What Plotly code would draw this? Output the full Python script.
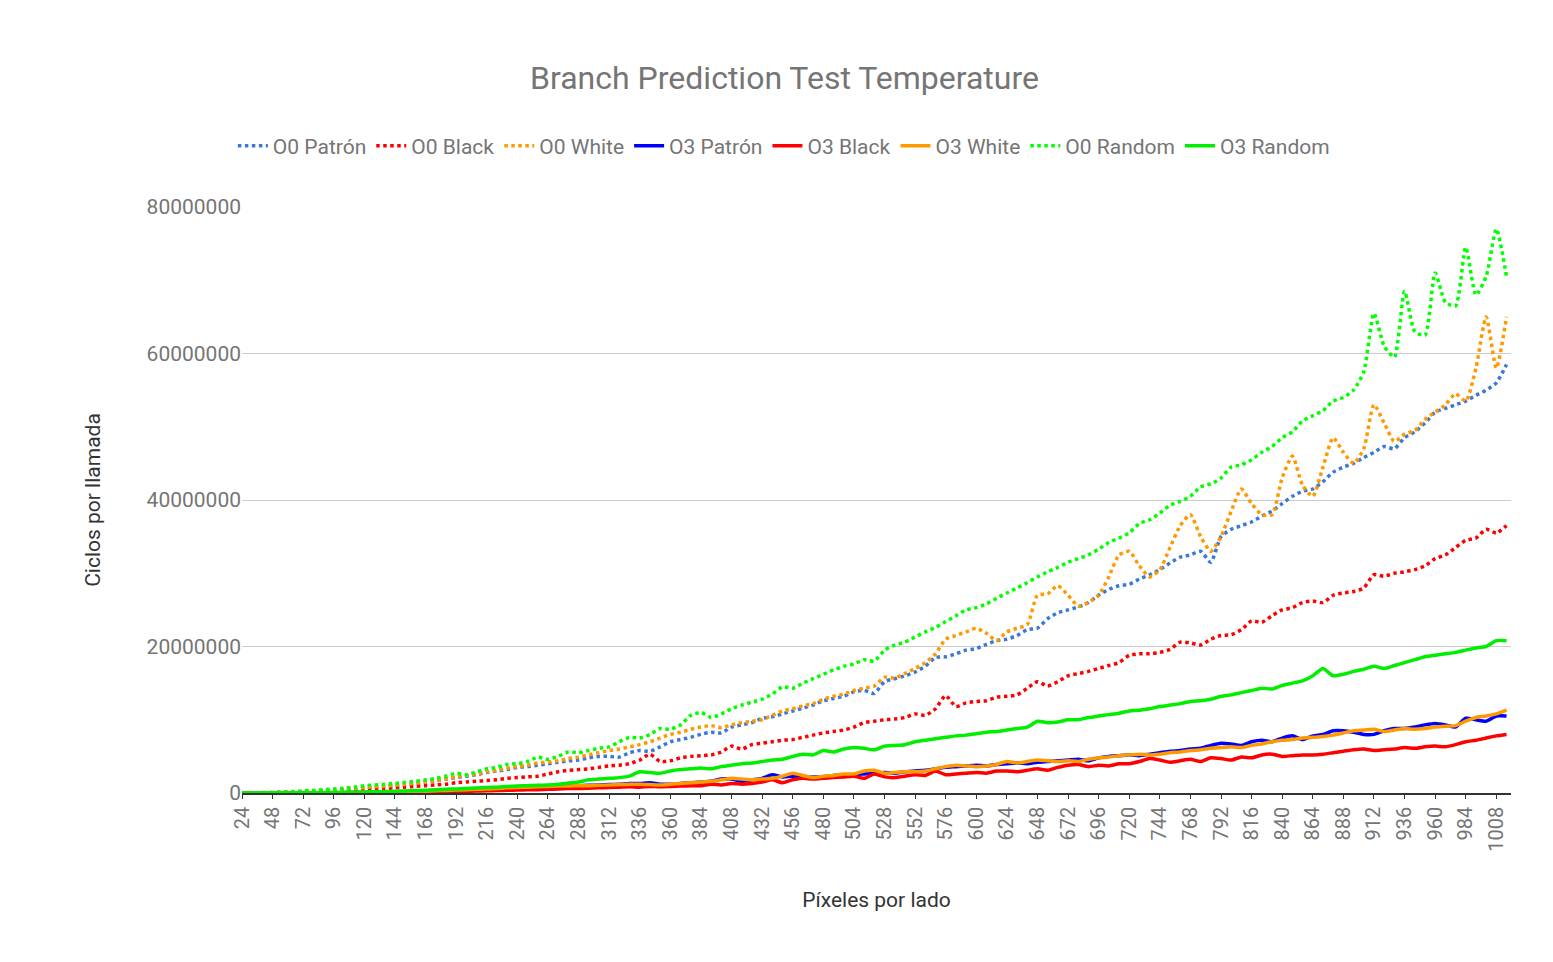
import plotly.graph_objects as go

# pixels per side: 24..1016 step 8
pixels = list(range(24, 1017, 8))

# values in millions of cycles
o0_patron = [0,0,0.02, 0.05,0.08,0.12, 0.18,0.25,0.3, 0.4,0.5,0.6, 0.75,0.85,0.95, 1.05,1.2,1.35,
    1.5,1.7,1.9, 2.1,2.3,2.5, 2.8,3.0,3.2, 3.5,3.6,3.8, 4.0,4.2,4.4, 4.5,4.8,5.0, 5.0,4.9,5.5,
    5.8,5.7,6.3, 7.0,7.3,7.6, 8.0,8.3,8.2, 9.0,9.3,9.6, 10.2,10.4,10.8, 11.2,11.6,12.0,
    12.6,12.9,13.2, 13.8,14.0,13.6, 15.2,15.6,16.0, 16.5,17.3,18.5, 18.6,19.0,19.5,
    19.7,20.3,20.8, 21.0,21.5,22.3, 22.5,23.8,24.6, 25.0,25.4,26.0, 27.0,27.8,28.3,
    28.5,29.2,29.8, 30.5,31.4,32.2, 32.5,33.0,31.5, 35.0,36.0,36.5, 37.0,37.8,38.5,
    39.5,40.5,41.2, 41.5,42.5,43.8, 44.5,45.0,45.8, 46.5,47.3,47.0, 48.5,49.3,50.5,
    52.0,52.5,53.0, 53.5,54.3,55.0, 56.0,58.5]
o0_black = [0,0,0.01, 0.03,0.05,0.08, 0.12,0.15,0.2, 0.25,0.3,0.38, 0.45,0.5,0.6, 0.7,0.8,0.9,
    1.0,1.1,1.2, 1.4,1.5,1.6, 1.7,1.8,2.0, 2.1,2.2,2.3, 2.6,2.9,3.1, 3.2,3.3,3.5, 3.7,3.8,4.0,
    4.5,5.3,4.3, 4.4,4.8,5.0, 5.1,5.2,5.6, 6.4,6.0,6.6, 6.8,7.0,7.2, 7.3,7.6,7.9,
    8.2,8.4,8.6, 9.0,9.6,9.8, 10.0,10.1,10.3, 10.8,10.6,11.5, 13.3,11.8,12.3,
    12.5,12.6,13.1, 13.2,13.4,14.3, 15.2,14.6,15.2, 16.0,16.3,16.6, 17.0,17.4,17.8,
    18.8,19.0,19.0, 19.2,19.6,20.6, 20.5,20.2,21.0, 21.5,21.6,22.3, 23.5,23.3,24.2,
    25.0,25.3,26.0, 26.2,26.0,27.0, 27.3,27.5,28.0, 29.8,29.6,30.0, 30.2,30.5,31.0,
    32.0,32.5,33.5, 34.5,34.8,36.0, 35.5,36.5]
o0_white = [0,0,0.02, 0.05,0.08,0.12, 0.18,0.25,0.3, 0.4,0.5,0.6, 0.75,0.85,0.95, 1.05,1.2,1.35,
    1.5,1.7,1.9, 2.2,2.4,2.6, 2.9,3.1,3.4, 3.6,3.8,4.1, 4.2,4.4,4.7, 4.9,5.2,5.5, 5.8,6.0,6.3,
    6.6,7.0,7.5, 8.0,8.3,8.7, 9.0,9.2,8.9, 9.3,9.6,9.8, 10.0,10.6,11.2, 11.5,11.9,12.2,
    12.8,13.2,13.5, 14.0,14.3,14.6, 15.8,15.7,16.3, 17.0,17.8,19.0, 21.0,21.5,22.0,
    22.5,21.8,20.8, 22.0,22.5,23.0, 27.0,27.2,28.3, 27.0,25.5,26.0, 27.0,29.5,32.5,
    33.0,31.0,29.5, 30.5,33.5,36.5, 38.0,35.0,33.0, 35.0,38.5,41.5, 39.5,38.0,38.0,
    43.0,46.0,42.0, 40.5,44.5,48.5, 46.5,45.0,47.0, 53.0,50.5,48.0, 49.0,49.5,51.0,
    52.0,53.0,54.5, 53.5,58.0,65.0, 58.0,65.0]
o3_patron = [0,0,0, 0,0,0.01, 0.01,0.02,0.03, 0.04,0.05,0.06, 0.08,0.1,0.12, 0.15,0.18,0.2,
    0.25,0.3,0.35, 0.4,0.45,0.5, 0.55,0.6,0.7, 0.75,0.8,0.85, 0.9,0.95,1.0, 1.0,1.05,1.1,
    1.15,1.2,1.3, 1.3,1.4,1.2, 1.2,1.3,1.4, 1.5,1.6,1.9, 1.9,1.6,1.8, 2.0,2.5,2.2,
    2.3,2.1,2.2, 2.2,2.4,2.5, 2.5,2.6,2.7, 2.8,2.7,2.9, 3.0,3.1,3.3, 3.5,3.6,3.7,
    3.8,3.7,3.9, 4.0,4.1,4.0, 4.2,4.3,4.4, 4.5,4.6,4.4, 4.8,5.0,5.1, 5.2,5.1,5.3,
    5.5,5.7,5.8, 6.0,6.1,6.5, 6.8,6.7,6.5, 7.0,7.2,7.0, 7.5,7.8,7.3, 7.8,8.0,8.5,
    8.5,8.3,8.0, 8.0,8.5,8.8, 8.8,9.0,9.3, 9.5,9.3,9.0, 10.2,10.0,9.8, 10.5,10.5]
o3_black = [0,0,0, 0,0,0, 0,0.01,0.01, 0.02,0.03,0.04, 0.05,0.06,0.07, 0.08,0.1,0.12,
    0.14,0.16,0.18, 0.2,0.23,0.26, 0.3,0.33,0.36, 0.4,0.43,0.46, 0.5,0.55,0.6, 0.6,0.65,0.7,
    0.75,0.8,0.85, 0.8,0.9,0.85, 0.9,0.95,1.0, 1.0,1.2,1.1, 1.3,1.2,1.3, 1.5,1.8,1.4,
    1.8,2.0,1.9, 2.0,2.1,2.2, 2.3,2.0,2.6, 2.2,2.1,2.3, 2.5,2.4,3.0, 2.5,2.6,2.7,
    2.8,2.7,3.0, 3.0,2.9,3.1, 3.3,3.1,3.5, 3.8,3.9,3.6, 3.8,3.7,4.0, 4.0,4.3,4.7,
    4.5,4.2,4.4, 4.6,4.3,4.8, 4.7,4.5,4.9, 4.8,5.2,5.3, 5.0,5.1,5.2, 5.2,5.3,5.5,
    5.7,5.9,6.0, 5.8,5.9,6.0, 6.2,6.1,6.3, 6.4,6.3,6.6, 7.0,7.2,7.5, 7.8,8.0]
o3_white = [0,0,0, 0,0,0.01, 0.01,0.02,0.03, 0.04,0.05,0.06, 0.08,0.1,0.12, 0.15,0.18,0.2,
    0.25,0.3,0.35, 0.4,0.45,0.5, 0.55,0.6,0.7, 0.75,0.8,0.85, 0.9,0.95,0.95, 1.0,1.0,1.05,
    1.1,1.15,1.2, 1.2,1.15,1.1, 1.2,1.3,1.4, 1.5,1.6,1.8, 2.0,1.9,1.8, 1.9,2.0,2.3,
    2.7,2.4,2.1, 2.3,2.4,2.6, 2.6,3.0,3.1, 2.7,2.8,2.9, 2.9,3.0,3.3, 3.6,3.8,3.7,
    3.6,3.7,3.9, 4.3,4.1,4.3, 4.5,4.4,4.3, 4.4,4.3,4.6, 4.8,4.9,5.1, 5.2,5.3,5.2,
    5.3,5.5,5.6, 5.8,5.9,6.1, 6.2,6.3,6.2, 6.5,6.7,7.0, 7.2,7.3,7.5, 7.6,7.7,7.9,
    8.2,8.5,8.6, 8.7,8.4,8.6, 8.8,8.7,8.8, 9.0,9.1,9.2, 9.8,10.3,10.5, 10.8,11.3]
o0_random = [0,0,0.05, 0.1,0.15,0.2, 0.3,0.35,0.45, 0.55,0.65,0.8, 1.0,1.1,1.2, 1.3,1.45,1.6,
    1.8,2.0,2.3, 2.7,2.5,2.9, 3.3,3.5,3.9, 4.0,4.3,4.9, 4.6,5.0,5.6, 5.5,5.8,6.1, 6.3,7.0,7.6,
    7.5,8.0,8.8, 8.7,9.3,10.6, 11.0,10.3,10.8, 11.5,12.0,12.4, 12.8,13.5,14.5, 14.3,15.0,15.6,
    16.2,16.8,17.3, 17.6,18.2,18.0, 19.5,20.2,20.6, 21.3,22.0,22.6, 23.4,24.2,25.0,
    25.3,25.8,26.6, 27.3,28.0,28.7, 29.5,30.2,30.8, 31.5,32.0,32.5, 33.3,34.2,34.8,
    35.5,36.8,37.3, 38.2,39.3,39.8, 40.5,41.8,42.2, 43.0,44.5,44.8, 45.5,46.5,47.3,
    48.5,49.3,50.8, 51.5,52.2,53.5, 54.0,55.0,57.5, 65.5,61.0,59.5, 68.5,63.0,62.5,
    71.0,67.0,66.5, 74.5,68.0,70.5, 77.0,70.5]
o3_random = [0,0,0, 0,0.01,0.02, 0.03,0.04,0.05, 0.07,0.09,0.11, 0.14,0.17,0.2, 0.24,0.28,0.33,
    0.38,0.43,0.5, 0.56,0.62,0.68, 0.75,0.8,0.88, 0.95,1.0,1.05, 1.1,1.2,1.35, 1.5,1.8,1.9,
    2.0,2.1,2.3, 2.9,2.8,2.7, 3.0,3.2,3.3, 3.4,3.3,3.6, 3.8,4.0,4.1, 4.3,4.5,4.6,
    5.0,5.3,5.2, 5.8,5.6,6.0, 6.2,6.1,5.9, 6.4,6.5,6.6, 7.0,7.2,7.4, 7.6,7.8,7.9,
    8.1,8.3,8.4, 8.6,8.8,9.0, 9.8,9.6,9.7, 10.0,10.0,10.3, 10.5,10.7,10.9, 11.2,11.3,11.5,
    11.8,12.0,12.2, 12.5,12.6,12.8, 13.2,13.4,13.7, 14.0,14.3,14.2, 14.7,15.0,15.3,
    16.0,17.0,16.0, 16.2,16.6,16.9, 17.3,17.0,17.4, 17.8,18.2,18.6, 18.8,19.0,19.2,
    19.5,19.8,20.0, 20.8,20.8]

series = [
    ("O0 Patrón", o0_patron, "#3c78d8", "dot"),
    ("O0 Black", o0_black, "#ff0000", "dot"),
    ("O0 White", o0_white, "#ff9900", "dot"),
    ("O3 Patrón", o3_patron, "#0000ff", "solid"),
    ("O3 Black", o3_black, "#ff0000", "solid"),
    ("O3 White", o3_white, "#ff9900", "solid"),
    ("O0 Random", o0_random, "#00ff00", "dot"),
    ("O3 Random", o3_random, "#00ee00", "solid"),
]

fig = go.Figure()
for name, vals, color, dash in series:
    fig.add_trace(go.Scatter(
        x=pixels, y=[v * 1e6 for v in vals], name=name, mode="lines",
        line=dict(color=color, width=3.5, dash=dash, shape="spline", smoothing=0.6),
    ))

ticks = list(range(24, 1009, 24))
fig.update_layout(
    width=1553, height=962,
    paper_bgcolor="white", plot_bgcolor="white",
    font=dict(family="Roboto", color="#757575", size=21),
    title=dict(text="Branch Prediction Test Temperature", x=0.5, xanchor="center",
               yref="container", y=1 - 70 / 962, yanchor="middle",
               font=dict(size=32, color="#757575")),
    margin=dict(l=234, r=50, t=199, b=177, autoexpand=False),
    legend=dict(orientation="h", x=0.427, xanchor="center", y=1.104, yanchor="middle",
                itemwidth=30, font=dict(size=21, color="#757575")),
    xaxis=dict(range=[24, 1019.5], tickmode="array", tickvals=ticks,
               ticktext=[str(t) for t in ticks], tickangle=-90, showgrid=False,
               showline=True, linecolor="#333333", linewidth=1.5, automargin=False,
               ticks="outside", ticklen=4, tickcolor="#333333",
               title=dict(text="Píxeles por lado", font=dict(size=21, color="#333333"), standoff=42),
               tickfont=dict(size=20)),
    yaxis=dict(range=[0, 80e6], tickvals=[0, 20e6, 40e6, 60e6, 80e6],
               ticktext=["0", "20000000", "40000000", "60000000", "80000000"],
               gridcolor="#cccccc", zeroline=False, automargin=False,
               title=dict(text="Ciclos por llamada", font=dict(size=21, color="#333333"), standoff=40)),
)
fig.write_html("out.html")
